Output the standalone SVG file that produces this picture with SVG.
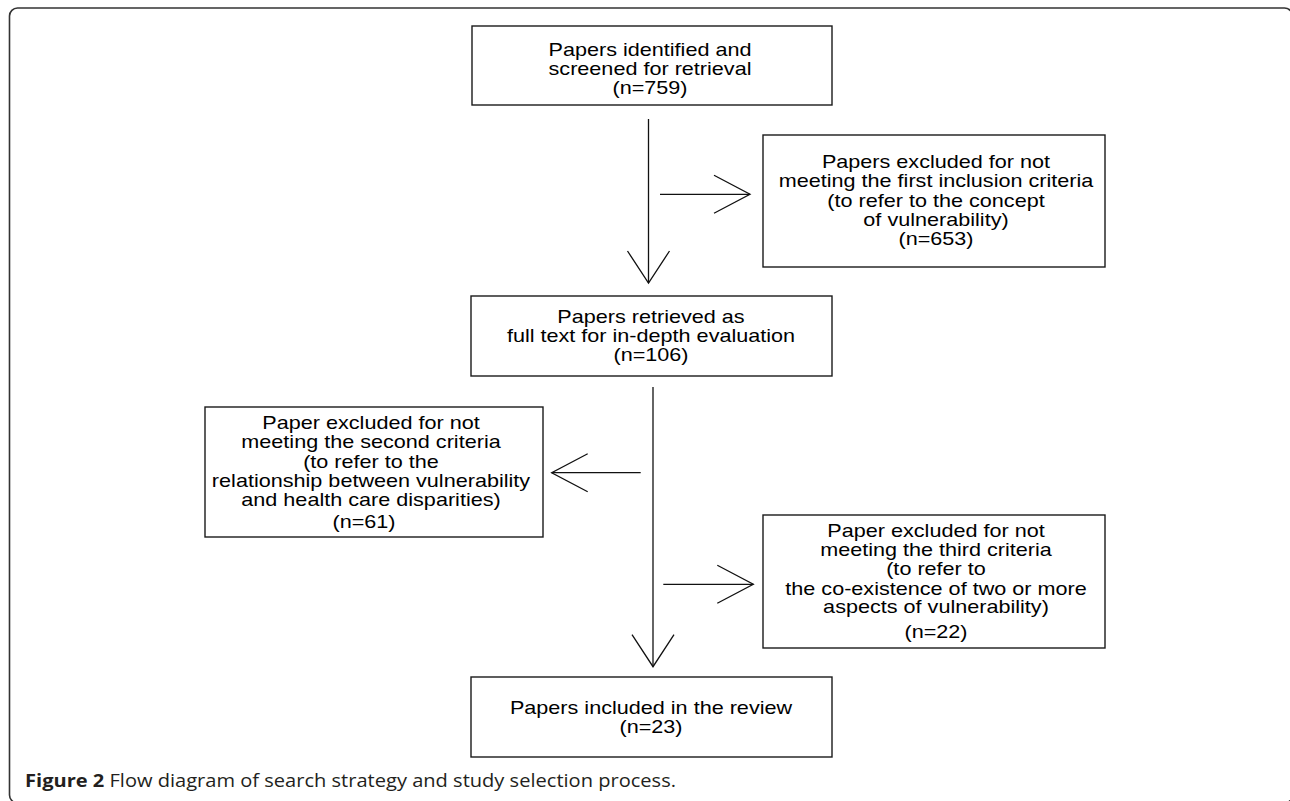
<svg xmlns="http://www.w3.org/2000/svg" width="1290" height="801" viewBox="0 0 1290 801">
<style>
.box{fill:#fff;stroke:#1a1a1a;stroke-width:1.4}
.t{font-family:"Liberation Sans",Arial,sans-serif;font-size:17.5px;fill:#000;text-anchor:middle}
.con line{stroke:#111;stroke-width:1.3;fill:none}
.frame{fill:none;stroke:#333;stroke-width:1.6}
.cap{font-family:"Open Sans","Noto Sans","Liberation Sans",sans-serif;font-size:18px;fill:#231f20}
</style>
<defs>
<marker id="aV" markerUnits="userSpaceOnUse" orient="auto" refX="0" refY="0" markerWidth="40" markerHeight="50" overflow="visible">
<path d="M-32,-21 L0,0 L-32,21" fill="none" stroke="#111" stroke-width="1.3"/>
</marker>
<marker id="aH" markerUnits="userSpaceOnUse" orient="auto" refX="0" refY="0" markerWidth="40" markerHeight="50" overflow="visible">
<path d="M-36,-19 L0,0 L-36,19" fill="none" stroke="#111" stroke-width="1.3"/>
</marker>
</defs>
<rect class="frame" x="9.5" y="8" width="1283" height="795" rx="8"/>

<g id="connectors" class="con">
<line x1="648.5" y1="119" x2="648.5" y2="283" marker-end="url(#aV)"/>
<line x1="660" y1="194.3" x2="750" y2="194.3" marker-end="url(#aH)"/>
<line x1="653" y1="387" x2="653" y2="666.7" marker-end="url(#aV)"/>
<line x1="640.7" y1="472.7" x2="551.7" y2="472.7" marker-end="url(#aH)"/>
<line x1="663.3" y1="584.3" x2="753.3" y2="584.3" marker-end="url(#aH)"/>
</g>

<g id="n1">
<rect class="box" x="472" y="26" width="360" height="79"/>
<text class="t" transform="translate(650 56) scale(1.235 1)">Papers identified and</text>
<text class="t" transform="translate(650 75.3) scale(1.235 1)">screened for retrieval</text>
<text class="t" transform="translate(650 94.3) scale(1.235 1)">(n=759)</text>
</g>

<g id="n2">
<rect class="box" x="763" y="135" width="342" height="132"/>
<text class="t" transform="translate(936 167.7) scale(1.235 1)">Papers excluded for not</text>
<text class="t" transform="translate(936 187) scale(1.235 1)">meeting the first inclusion criteria</text>
<text class="t" transform="translate(936 206.5) scale(1.235 1)">(to refer to the concept</text>
<text class="t" transform="translate(936 225.7) scale(1.235 1)">of vulnerability)</text>
<text class="t" transform="translate(936 244.5) scale(1.235 1)">(n=653)</text>
</g>

<g id="n3">
<rect class="box" x="471" y="296" width="361" height="80"/>
<text class="t" transform="translate(651 322.7) scale(1.235 1)">Papers retrieved as</text>
<text class="t" transform="translate(651 341.7) scale(1.235 1)">full text for in-depth evaluation</text>
<text class="t" transform="translate(651 361) scale(1.235 1)">(n=106)</text>
</g>

<g id="n4">
<rect class="box" x="205" y="407" width="338" height="130"/>
<text class="t" transform="translate(371 429.3) scale(1.235 1)">Paper excluded for not</text>
<text class="t" transform="translate(371 448.3) scale(1.235 1)">meeting the second criteria</text>
<text class="t" transform="translate(371 467.7) scale(1.235 1)">(to refer to the</text>
<text class="t" transform="translate(371 487.3) scale(1.235 1)">relationship between vulnerability</text>
<text class="t" transform="translate(371 506) scale(1.235 1)">and health care disparities)</text>
<text class="t" transform="translate(364 528.3) scale(1.235 1)">(n=61)</text>
</g>

<g id="n5">
<rect class="box" x="763" y="515" width="342" height="133"/>
<text class="t" transform="translate(936 537) scale(1.235 1)">Paper excluded for not</text>
<text class="t" transform="translate(936 556) scale(1.235 1)">meeting the third criteria</text>
<text class="t" transform="translate(936 575) scale(1.235 1)">(to refer to</text>
<text class="t" transform="translate(936 594.5) scale(1.235 1)">the co-existence of two or more</text>
<text class="t" transform="translate(936 613) scale(1.235 1)">aspects of vulnerability)</text>
<text class="t" transform="translate(936 638) scale(1.235 1)">(n=22)</text>
</g>

<g id="n6">
<rect class="box" x="471" y="677" width="361" height="80"/>
<text class="t" transform="translate(651 714) scale(1.235 1)">Papers included in the review</text>
<text class="t" transform="translate(651 733.3) scale(1.235 1)">(n=23)</text>
</g>

<text class="cap" x="25" y="787" textLength="651" lengthAdjust="spacingAndGlyphs"><tspan font-weight="bold">Figure 2</tspan> Flow diagram of search strategy and study selection process.</text>
</svg>
